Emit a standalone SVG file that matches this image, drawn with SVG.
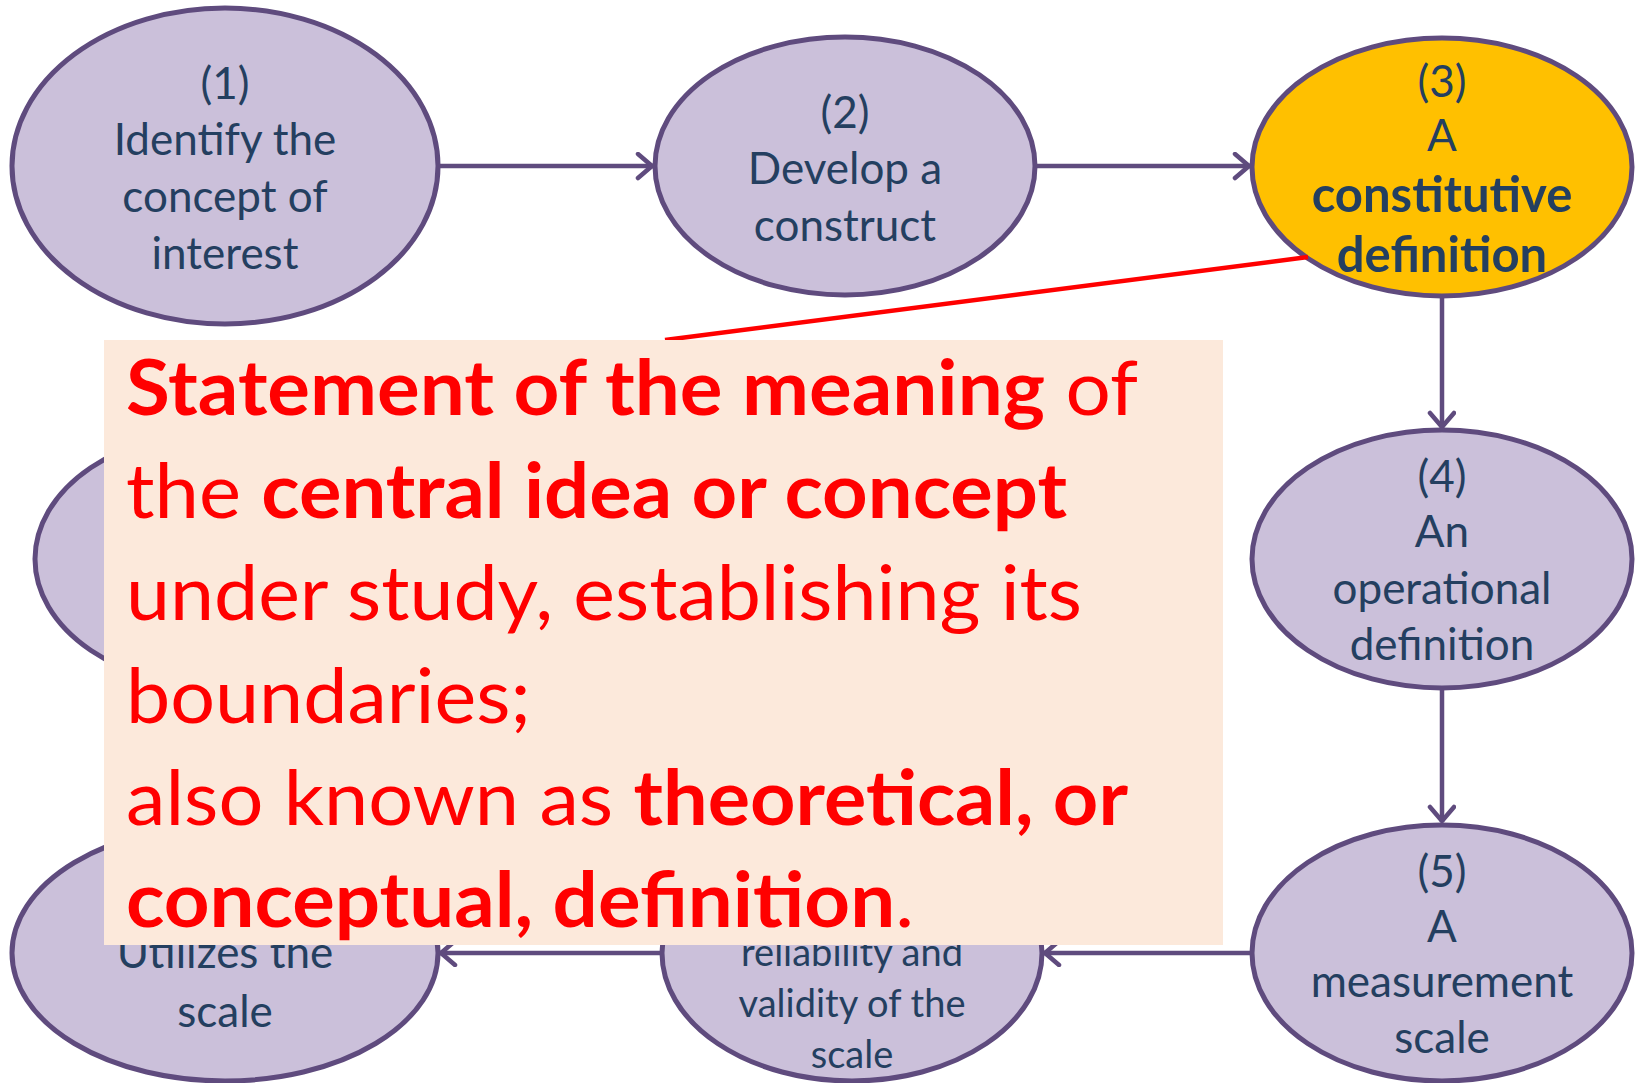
<svg xmlns="http://www.w3.org/2000/svg" width="1636" height="1083" viewBox="0 0 1636 1083">
<style>
.node{fill:#CBC0DA;stroke:#5F4B7E;stroke-width:5}
.hl{fill:#FFC000}
.nt{font-family:Lato,"Open Sans","Liberation Sans",sans-serif;font-size:44px;fill:#243F60;text-anchor:middle}
.nb{font-weight:bold;font-size:49px}
.sm{font-size:38px}
.conn{stroke:#5F4B7E;stroke-width:4.5;fill:none}
.bt{font-family:Lato,"Open Sans","Liberation Sans",sans-serif;font-size:76px;fill:#FF0000}
.b{font-weight:bold}
</style>
<defs>
<marker id="arr" markerUnits="userSpaceOnUse" markerWidth="24" markerHeight="32" refX="18" refY="14" orient="auto">
<path d="M3,2 L17,14 L3,26" fill="none" stroke="#5F4B7E" stroke-width="4.5" stroke-linecap="round" stroke-linejoin="round"/>
</marker>
</defs>
<rect width="1636" height="1083" fill="#FFFFFF"/>
<g id="connectors">
<line class="conn" x1="438" y1="166" x2="653" y2="166" marker-end="url(#arr)"/>
<line class="conn" x1="1035" y1="166" x2="1250" y2="166" marker-end="url(#arr)"/>
<line class="conn" x1="1442" y1="296" x2="1442" y2="428" marker-end="url(#arr)"/>
<line class="conn" x1="1442" y1="689" x2="1442" y2="822" marker-end="url(#arr)"/>
<line class="conn" x1="1252" y1="953" x2="1044" y2="953" marker-end="url(#arr)"/>
<line class="conn" x1="662" y1="953" x2="440" y2="953" marker-end="url(#arr)"/>
</g>
<g id="node1">
<ellipse class="node" cx="225" cy="166" rx="213" ry="158"/>
<text class="nt" x="225" y="99">(1)</text>
<text class="nt" x="225" y="155">Identify the</text>
<text class="nt" x="225" y="212">concept of</text>
<text class="nt" x="225" y="269">interest</text>
</g>
<g id="node2">
<ellipse class="node" cx="845" cy="166" rx="190" ry="129"/>
<text class="nt" x="845" y="128">(2)</text>
<text class="nt" x="845" y="184">Develop a</text>
<text class="nt" x="845" y="241">construct</text>
</g>
<g id="node3">
<ellipse class="node hl" cx="1442" cy="167" rx="190" ry="129"/>
<text class="nt" x="1442" y="97">(3)</text>
<text class="nt" x="1442" y="151">A</text>
<text class="nt nb" x="1442" y="212">constitutive</text>
<text class="nt nb" x="1442" y="272">definition</text>
</g>
<g id="node4">
<ellipse class="node" cx="1442" cy="559" rx="190" ry="129"/>
<text class="nt" x="1442" y="492">(4)</text>
<text class="nt" x="1442" y="547">An</text>
<text class="nt" x="1442" y="604">operational</text>
<text class="nt" x="1442" y="660">definition</text>
</g>
<g id="node5">
<ellipse class="node" cx="1442" cy="953" rx="190" ry="128"/>
<text class="nt" x="1442" y="887">(5)</text>
<text class="nt" x="1442" y="942">A</text>
<text class="nt" x="1442" y="997">measurement</text>
<text class="nt" x="1442" y="1053">scale</text>
</g>
<g id="node6">
<ellipse class="node" cx="852" cy="953" rx="190" ry="128"/>
<text class="nt sm" x="852" y="966">reliability and</text>
<text class="nt sm" x="852" y="1017">validity of the</text>
<text class="nt sm" x="852" y="1068">scale</text>
</g>
<g id="node7">
<ellipse class="node" cx="225" cy="953" rx="213" ry="128"/>
<text class="nt" x="225" y="968">Utilizes the</text>
<text class="nt" x="225" y="1027">scale</text>
</g>
<g id="node8">
<ellipse class="node" cx="225" cy="559" rx="190" ry="129"/>
</g>
<g id="callout">
<line x1="665" y1="340" x2="1308" y2="257" stroke="#FF0000" stroke-width="4.5"/>
<rect x="104" y="340" width="1119" height="605" fill="#FCE9DB"/>
<text class="bt" x="126" y="415" textLength="1012" lengthAdjust="spacingAndGlyphs"><tspan class="b">Statement of the meaning</tspan> of</text>
<text class="bt" x="126" y="518" textLength="941" lengthAdjust="spacingAndGlyphs">the <tspan class="b">central idea or concept</tspan></text>
<text class="bt" x="126" y="620" textLength="956" lengthAdjust="spacingAndGlyphs">under study, establishing its</text>
<text class="bt" x="126" y="723" textLength="405" lengthAdjust="spacingAndGlyphs">boundaries;</text>
<text class="bt" x="126" y="825" textLength="1002" lengthAdjust="spacingAndGlyphs">also known as <tspan class="b">theoretical, or</tspan></text>
<text class="bt" x="126" y="927" textLength="788" lengthAdjust="spacingAndGlyphs"><tspan class="b">conceptual, definition</tspan>.</text>
</g>
</svg>
